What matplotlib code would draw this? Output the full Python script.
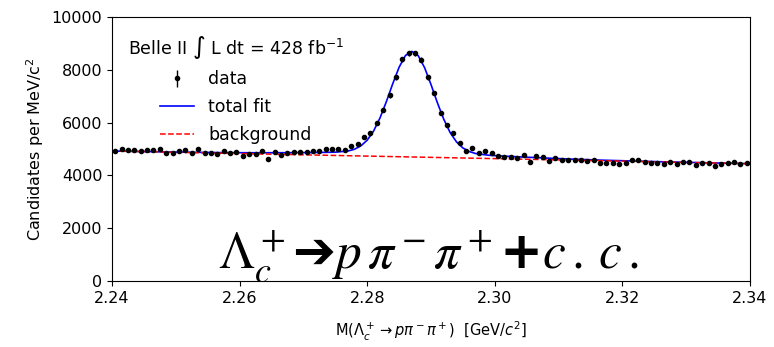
import numpy as np
import matplotlib.pyplot as plt

# candidates per 1 MeV bin, 2.240 - 2.340 GeV
counts = [4930, 5005, 4960, 4955, 4920, 4950, 4955, 5005, 4860, 4850,
          4910, 4975, 4850, 5015, 4865, 4860, 4800, 4940, 4860, 4895,
          4745, 4815, 4805, 4940, 4630, 4890, 4765, 4865, 4890, 4890,
          4880, 4910, 4925, 4985, 5000, 4985, 4975, 5130, 5190, 5440,
          5590, 5980, 6465, 7035, 7715, 8400, 8620, 8620, 8375, 7710,
          7120, 6360, 5900, 5600, 5240, 4920, 5030, 4840, 4915, 4840,
          4755, 4689, 4689, 4651, 4791, 4525, 4753, 4715, 4563, 4664,
          4601, 4601, 4601, 4601, 4563, 4601, 4474, 4474, 4487, 4436,
          4462, 4601, 4601, 4525, 4474, 4474, 4436, 4525, 4436, 4500,
          4500, 4411, 4462, 4462, 4373, 4436, 4462, 4500, 4436, 4462]
bin_width = 0.001
mass = 2.24 + bin_width * (np.arange(len(counts)) + 0.5)

# total fit curve
fit_x = [2.240, 2.250, 2.257, 2.262, 2.267, 2.270, 2.273, 2.275, 2.277, 2.278,
         2.279, 2.280, 2.281, 2.282, 2.283, 2.284, 2.285, 2.286, 2.287, 2.288,
         2.289, 2.290, 2.291, 2.292, 2.293, 2.294, 2.295, 2.296, 2.297, 2.299,
         2.301, 2.304, 2.307, 2.312, 2.317, 2.327, 2.340]
fit_y = [4926, 4885, 4865, 4859, 4861, 4865, 4872, 4881, 4926, 4992,
         5118, 5336, 5681, 6176, 6792, 7471, 8098, 8543, 8699, 8533,
         8079, 7442, 6754, 6128, 5623, 5269, 5041, 4905, 4830, 4766,
         4737, 4702, 4669, 4619, 4577, 4512, 4445]

# linear background
bkg_x = [2.24, 2.34]
bkg_y = [4925, 4445]

fig = plt.figure(figsize=(7.74, 3.47), dpi=100)
ax = fig.add_axes([0.1447, 0.19, 0.8243, 0.761])

ax.errorbar(mass, counts, yerr=np.sqrt(counts), fmt='o', color='black',
            markersize=3, elinewidth=1, label='data')
ax.plot(fit_x, fit_y, color='blue', lw=1.2, label='total fit')
ax.plot(bkg_x, bkg_y, color='red', ls='--', lw=1.1, label='background')

ax.set_xlim(2.24, 2.34)
ax.set_ylim(0, 10000)
ax.set_xticks([2.24, 2.26, 2.28, 2.30, 2.32, 2.34])
ax.set_xticklabels(['2.24', '2.26', '2.28', '2.30', '2.32', '2.34'])
ax.set_yticks([0, 2000, 4000, 6000, 8000, 10000])
ax.tick_params(labelsize=11.5)

ax.set_ylabel('Candidates per MeV/c$^2$', fontsize=11.5)
ax.set_xlabel(r'M($\Lambda_c^+ \rightarrow p\pi^-\pi^+$)  [GeV/$c^2$]', fontsize=10.5,
              labelpad=10)

handles, labels = ax.get_legend_handles_labels()
order = [labels.index('data'), labels.index('total fit'), labels.index('background')]
ax.legend([handles[i] for i in order], [labels[i] for i in order],
          loc='upper left', frameon=False, fontsize=12.5,
          title=r'Belle II $\int$ L dt = 428 fb$^{-1}$', title_fontsize=12.5,
          bbox_to_anchor=(0.0, 0.995), labelspacing=0.55)

ax.text(0.166, 0.05, r'$\Lambda_c^+$➔$p\,\pi^-\pi^+$+$c\,.\,c\,.$', transform=ax.transAxes,
        fontsize=37, math_fontfamily='stix', fontweight='bold')

fig.savefig('out.png', dpi=100)
